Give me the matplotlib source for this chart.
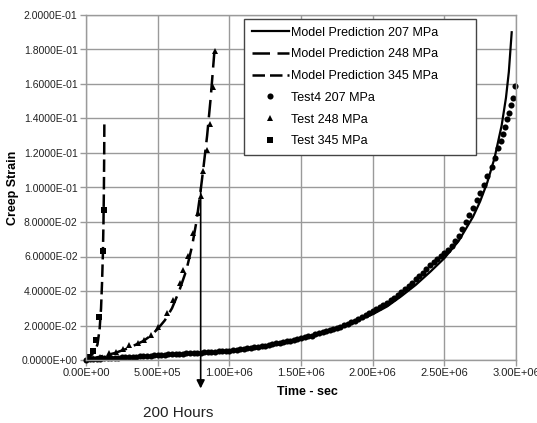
import numpy as np
import matplotlib
matplotlib.use("Agg")
import matplotlib.pyplot as plt

plt.rcParams['font.family'] = ['Liberation Sans', 'DejaVu Sans']

# --- data (time in seconds, creep strain) ---
# Model prediction 207 MPa
model207_t = [0, 0.5e6, 1.0e6, 1.2e6, 1.4e6, 1.6e6, 1.8e6, 2.0e6, 2.1e6, 2.2e6, 2.3e6,
              2.4e6, 2.5e6, 2.6e6, 2.7e6, 2.75e6, 2.8e6, 2.85e6, 2.9e6, 2.93e6, 2.95e6, 2.97e6]
model207_e = [0, 0.0022, 0.0050, 0.0068, 0.0098, 0.0140, 0.0195, 0.0265, 0.0310, 0.0370, 0.0435,
              0.0510, 0.0590, 0.0690, 0.0830, 0.0920, 0.1030, 0.1170, 0.1360, 0.1520, 0.1670, 0.1900]

# Model prediction 248 MPa
model248_t = [0, 1e5, 2e5, 3e5, 4e5, 4.5e5, 5e5, 5.5e5, 6e5, 6.5e5, 7e5, 7.4e5, 7.7e5,
              7.95e5, 8.2e5, 8.45e5, 8.7e5, 8.95e5]
model248_e = [0, 0.002, 0.004, 0.007, 0.011, 0.014, 0.018, 0.023, 0.030, 0.040, 0.052, 0.066, 0.080,
              0.095, 0.112, 0.130, 0.152, 0.178]

# Model prediction 345 MPa
model345_t = [0, 3e4, 6e4, 8e4, 9.5e4, 1.05e5, 1.12e5, 1.18e5, 1.22e5, 1.25e5, 1.27e5, 1.28e5]
model345_e = [0, 0.002, 0.005, 0.009, 0.018, 0.030, 0.045, 0.062, 0.080, 0.100, 0.120, 0.137]

# Test4 207 MPa (time in 1e6 s)
test207_t = [0.000, 0.025, 0.050, 0.075, 0.100, 0.125, 0.150, 0.175, 0.200, 0.225,
             0.250, 0.275, 0.300, 0.325, 0.350, 0.375, 0.400, 0.425, 0.450, 0.475,
             0.500, 0.525, 0.550, 0.575, 0.600, 0.625, 0.650, 0.675, 0.700, 0.725,
             0.750, 0.775, 0.800, 0.825, 0.850, 0.875, 0.900, 0.925, 0.950, 0.975,
             1.000, 1.025, 1.050, 1.075, 1.100, 1.125, 1.150, 1.175, 1.200, 1.225,
             1.250, 1.275, 1.300, 1.325, 1.350, 1.375, 1.400, 1.425, 1.450, 1.475,
             1.500, 1.525, 1.550, 1.575, 1.600, 1.625, 1.650, 1.675, 1.700, 1.725,
             1.750, 1.775, 1.800, 1.825, 1.850, 1.875, 1.900, 1.925, 1.950, 1.975,
             2.000, 2.025, 2.050, 2.075, 2.100, 2.125, 2.150, 2.175, 2.200, 2.225,
             2.250, 2.275, 2.300, 2.325, 2.350, 2.375, 2.400, 2.425, 2.450, 2.475,
             2.500, 2.525, 2.550, 2.575, 2.600, 2.625, 2.650, 2.675, 2.700, 2.725,
             2.750, 2.775, 2.800, 2.830, 2.854, 2.877, 2.894, 2.908, 2.924, 2.936,
             2.954, 2.966, 2.978, 2.994]
test207_e = [0.0000, 0.0003, 0.0005, 0.0007, 0.0008, 0.0009, 0.0010, 0.0012, 0.0013, 0.0014,
             0.0015, 0.0017, 0.0018, 0.0019, 0.0020, 0.0022, 0.0023, 0.0024, 0.0025, 0.0027,
             0.0028, 0.0029, 0.0030, 0.0032, 0.0033, 0.0034, 0.0035, 0.0037, 0.0038, 0.0039,
             0.0040, 0.0042, 0.0043, 0.0045, 0.0046, 0.0048, 0.0049, 0.0051, 0.0052, 0.0054,
             0.0055, 0.0057, 0.0059, 0.0061, 0.0064, 0.0067, 0.0070, 0.0073, 0.0077, 0.0080,
             0.0084, 0.0088, 0.0092, 0.0096, 0.0100, 0.0104, 0.0108, 0.0112, 0.0117, 0.0122,
             0.0127, 0.0132, 0.0137, 0.0142, 0.0148, 0.0154, 0.0160, 0.0166, 0.0173, 0.0180,
             0.0187, 0.0194, 0.0202, 0.0210, 0.0219, 0.0228, 0.0238, 0.0248, 0.0259, 0.0270,
             0.0282, 0.0294, 0.0306, 0.0319, 0.0333, 0.0347, 0.0362, 0.0378, 0.0395, 0.0412,
             0.0430, 0.0448, 0.0467, 0.0487, 0.0507, 0.0528, 0.0549, 0.0567, 0.0585, 0.0602,
             0.0620, 0.0640, 0.0660, 0.0688, 0.0720, 0.0758, 0.0800, 0.0840, 0.0880, 0.0925,
             0.0970, 0.1015, 0.1065, 0.1120, 0.1170, 0.1230, 0.1270, 0.1310, 0.1350, 0.1395,
             0.1434, 0.1480, 0.1520, 0.1590]

# Test 248 MPa
test248_t = [0, 5e4, 1.0e5, 1.63e5, 2.09e5, 2.60e5, 3.02e5, 3.61e5, 4.07e5, 4.54e5, 5.05e5,
             5.63e5, 6.05e5, 6.56e5, 6.79e5, 7.14e5, 7.45e5, 7.84e5, 8.00e5, 8.19e5,
             8.46e5, 8.65e5, 8.84e5, 9.00e5]
test248_e = [0, 0.0010, 0.0020, 0.0042, 0.0048, 0.0062, 0.0087, 0.0101, 0.0116, 0.0145, 0.0194,
             0.0272, 0.0349, 0.0446, 0.0519, 0.0605, 0.0737, 0.0853, 0.0950, 0.1095,
             0.1220, 0.1370, 0.1580, 0.1790]

# Test 345 MPa
test345_t = [0, 1.4e4, 4.7e4, 7.0e4, 9.3e4, 1.21e5, 1.28e5]
test345_e = [0, 0.002, 0.0054, 0.0116, 0.025, 0.063, 0.087]

x_ticks = [0, 5e5, 1e6, 1.5e6, 2e6, 2.5e6, 3e6]
x_labels = ['0.00E+00', '5.00E+05', '1.00E+06', '1.50E+06', '2.00E+06', '2.50E+06', '3.00E+06']
y_ticks = [0, 0.02, 0.04, 0.06, 0.08, 0.10, 0.12, 0.14, 0.16, 0.18, 0.20]
y_labels = ['%.4E' % v for v in y_ticks]

arrow_t = 8.0e5  # 200 hours marker

fig = plt.figure(figsize=(5.37, 4.23), dpi=100)
ax = fig.add_axes([86 / 537, 1 - 360 / 423, 430 / 537, 345 / 423])

grid_col = '#9a9a9a'
ax.set_xlim(0, 3e6)
ax.set_ylim(0, 0.2)
ax.set_xticks(x_ticks)
ax.set_xticklabels(x_labels)
ax.set_yticks(y_ticks)
ax.set_yticklabels(y_labels)
ax.grid(True, color=grid_col, linewidth=1.0)
ax.set_axisbelow(True)
for s in ax.spines.values():
    s.set_color(grid_col)
    s.set_linewidth(1.0)
ax.tick_params(direction='out', length=4, width=1, color=grid_col,
               labelsize=8, labelcolor='#222222', pad=2)
ax.tick_params(axis='y', labelsize=7.5)

ax.plot(model207_t, model207_e, '-', color='k', lw=1.6, label='Model Prediction 207 MPa')
ax.plot(model248_t, model248_e, color='k', lw=1.8, dashes=(7, 3), label='Model Prediction 248 MPa')
ax.plot(model345_t, model345_e, color='k', lw=1.8, dashes=(5, 2), label='Model Prediction 345 MPa')
ax.plot(np.array(test207_t) * 1e6, test207_e, 'o', color='k', ms=4.4, mew=0,
        label='Test4 207 MPa', clip_on=False)
ax.plot(test248_t, test248_e, '^', color='k', ms=4.8, mew=0, label='Test 248 MPa')
ax.plot(test345_t, test345_e, 's', color='k', ms=4.4, mew=0, label='Test 345 MPa')

ax.annotate('', xy=(arrow_t, -0.0165), xytext=(arrow_t, 0.1),
            arrowprops=dict(arrowstyle='-|>', color='k', lw=1.2, mutation_scale=12,
                            shrinkA=0, shrinkB=0),
            annotation_clip=False)

leg = ax.legend(loc='upper left',
                bbox_to_anchor=(244 / 537, 1 - 152 / 423, 232 / 537, 133 / 423),
                bbox_transform=fig.transFigure, mode='expand', fontsize=9,
                frameon=True, fancybox=False, framealpha=1, edgecolor='#444444',
                borderpad=0.6, labelspacing=0.78, handlelength=3.0,
                handletextpad=0.15, borderaxespad=0)
leg.get_frame().set_linewidth(1.0)

ax.set_ylabel('Creep Strain', fontsize=9, fontweight='bold')
ax.yaxis.set_label_coords((19 - 86) / 430, 0.5)
fig.text(307 / 537, 1 - 392 / 423, 'Time - sec', fontsize=9, fontweight='bold',
         ha='center', va='center')
fig.text(178 / 537, 1 - 413 / 423, '200 Hours', fontsize=11, ha='center', va='center',
         color='#222222')

fig.savefig('out.png', dpi=100)
